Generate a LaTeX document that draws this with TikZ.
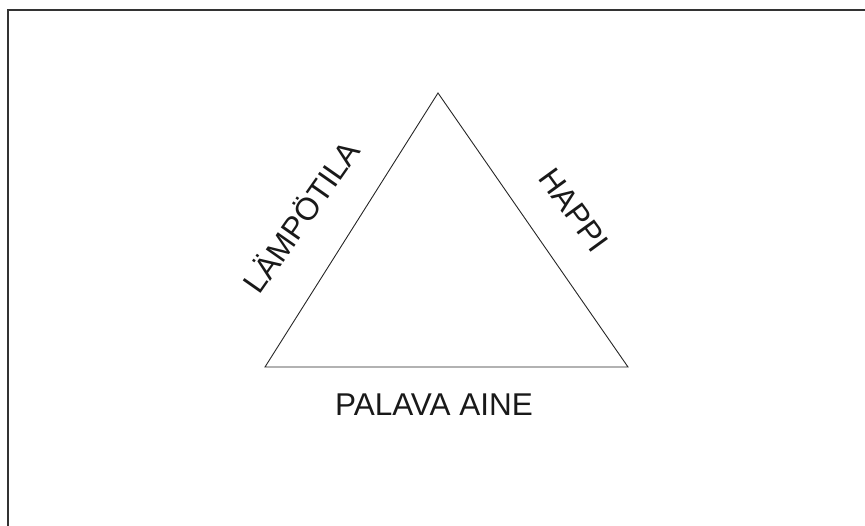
\documentclass[tikz,border=0pt]{standalone}
\usepackage{fontspec}
\setmainfont{Liberation Sans}
\begin{document}
\begin{tikzpicture}[x=1pt,y=-1pt,
  frame/.style={draw=black!80,line width=1.8pt},
  edge/.style={draw=black!85,line width=0.9pt},
  lbl/.style={inner sep=0pt,font=\fontsize{31.5}{36}\selectfont,text=black!90}]
\useasboundingbox (0,0) rectangle (865,526);
\coordinate (fb) at (8,526);
\coordinate (fc) at (8,10);
\coordinate (fr) at (865,10);
\draw[frame] (fb) -- (fc) -- (fr);
\coordinate (top) at (438,93);
\coordinate (bl) at (265,367);
\coordinate (br) at (628,367);
\draw[edge,line join=miter] (top) -- (br) -- (bl) -- cycle;
\node[lbl,anchor=base] (fuel) at (434,416) {PALAVA AINE};
\node[lbl,rotate=55] (heat) at (300,216) {LÄMPÖTILA};
\node[lbl,rotate=-54] (oxy) at (574,210) {HAPPI};
\end{tikzpicture}
\end{document}
